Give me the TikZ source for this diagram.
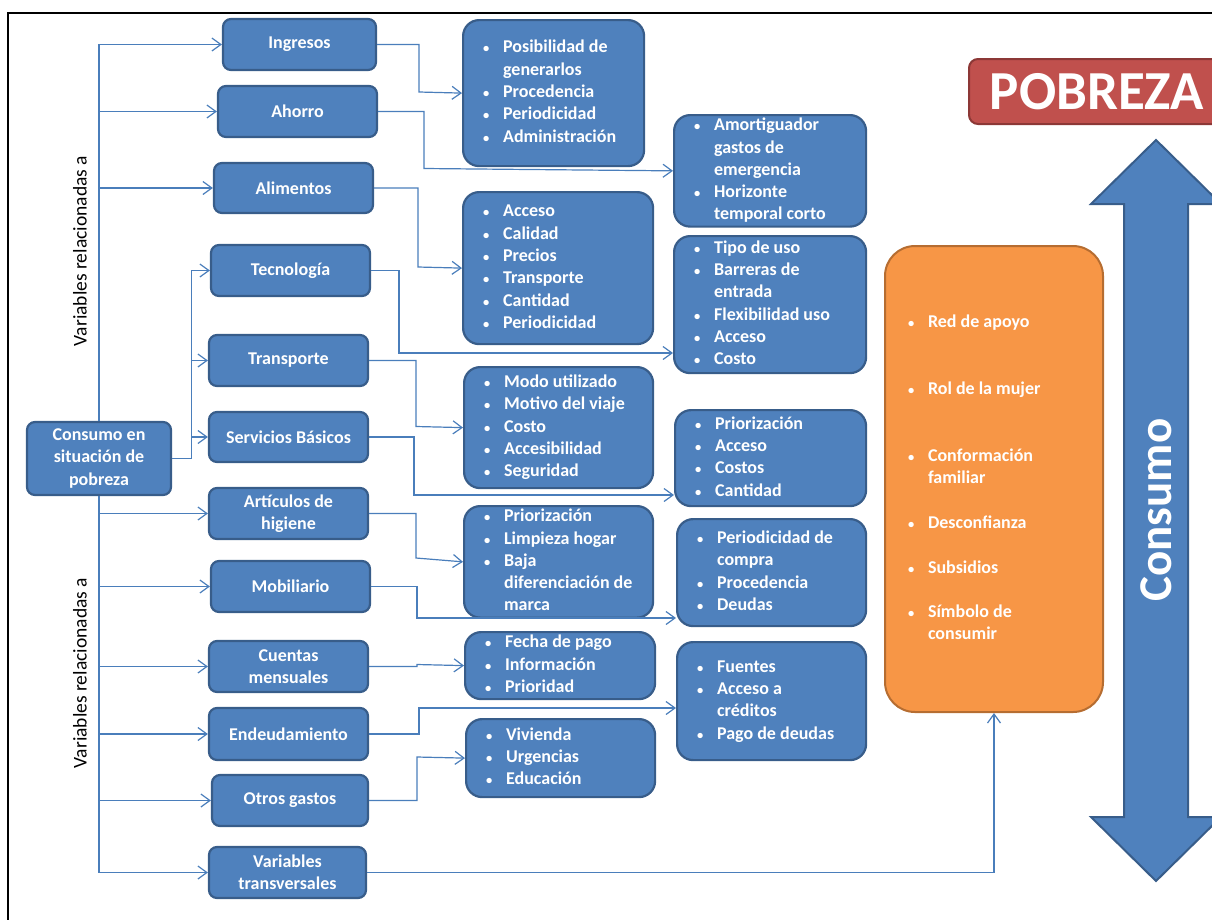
\documentclass[tikz,border=0pt]{standalone}
\usepackage{fontspec}
\setmainfont{Carlito}
\usetikzlibrary{arrows.meta}

\definecolor{boxblue}{RGB}{79,129,189}
\definecolor{boxedge}{RGB}{56,93,138}
\definecolor{linkblue}{RGB}{74,126,187}
\definecolor{orfill}{RGB}{247,150,70}
\definecolor{oredge}{RGB}{182,109,49}
\definecolor{redfill}{RGB}{192,80,77}
\definecolor{rededge}{RGB}{140,56,54}

% small list bullet, one bulleted row and one continuation row of a list
\newcommand\smallbul{{\fontsize{12.5}{12}\selectfont\textbullet}}
\newcommand\bulrow[1]{\smallbul & #1\\}
\newcommand\controw[1]{& #1\\}

\tikzset{
  labelfont/.style={font=\bfseries\fontsize{18}{22.3}\selectfont},
  varbox/.style={draw=boxedge, fill=boxblue, line width=2.2pt, rounded corners=8pt,
    text=white, align=center, inner sep=2pt, labelfont},
  detail/.style={draw=boxedge, fill=boxblue, line width=2.2pt, rounded corners=16pt,
    text=white, inner xsep=20pt, inner ysep=0pt, anchor=north west, labelfont},
  orbox/.style={draw=oredge, fill=orfill, line width=2pt, rounded corners=30pt,
    text=white, inner xsep=23pt, inner ysep=0pt, anchor=north west, labelfont},
  link/.style={draw=linkblue, line width=1.2pt, -{Straight Barb[length=9pt,width=13pt]}},
  sidelabel/.style={rotate=90, font=\fontsize{19.5}{22}\selectfont, text=black},
}

% list box: name, left, top, width, height, rows
\newcommand\detailbox[6]{%
  \node[detail, minimum width=#4, minimum height=#5] (#1) at (#2,#3)
    {\makebox[\dimexpr#4pt-40pt\relax][l]{\begin{tabular}{@{}p{20pt}@{}l@{}}#6\end{tabular}}};}

\begin{document}
\begin{tikzpicture}[x=1pt, y=-1pt]
\useasboundingbox (0,0) rectangle (1212,919);
\clip (0,0) rectangle (1212,919);

% frame
\draw[line width=2.8pt] (8,940) -- (8,13) -- (1240,13);

% central node and the variables
\node[varbox, minimum width=144, minimum height=73] (cons) at (99,458.5) {Consumo en\\situación de\\pobreza};
\node[varbox, minimum width=153, minimum height=51] (ing) at (299.5,44.5) {Ingresos};
\node[varbox, minimum width=159, minimum height=51] (aho) at (297.5,111.5) {Ahorro};
\node[varbox, minimum width=159, minimum height=50] (ali) at (293.5,188) {Alimentos};
\node[varbox, minimum width=159, minimum height=51] (tec) at (290.5,270.5) {Tecnología};
\node[varbox, minimum width=159, minimum height=51] (tra) at (288.5,360.5) {Transporte};
\node[varbox, minimum width=159, minimum height=50] (ser) at (288.5,437) {Servicios Básicos};
\node[varbox, minimum width=159, minimum height=51] (art) at (288.5,513.5) {Artículos de\\higiene};
\node[varbox, minimum width=159, minimum height=51] (mob) at (290.5,586.5) {Mobiliario};
\node[varbox, minimum width=159, minimum height=51] (cue) at (288.5,666.5) {Cuentas\\mensuales};
\node[varbox, minimum width=159, minimum height=52] (endu) at (288.5,734) {Endeudamiento};
\node[varbox, minimum width=156, minimum height=51] (otr) at (290,800.5) {Otros gastos};
\node[varbox, minimum width=157, minimum height=51] (vtr) at (287.5,872.5) {Variables\\transversales};

% side labels
\node[sidelabel] (lblup) at (80,251) {Variables relacionadas a};
\node[sidelabel] (lbldown) at (80,673) {Variables relacionadas a};

% lists of aspects
\detailbox{ingd}{462}{19}{181}{146}{\bulrow{Posibilidad de}\controw{generarlos}\bulrow{Procedencia}\bulrow{Periodicidad}\bulrow{Administración}}
\detailbox{alid}{462}{191}{190}{152}{\bulrow{Acceso}\bulrow{Calidad}\bulrow{Precios}\bulrow{Transporte}\bulrow{Cantidad}\bulrow{Periodicidad}}
\detailbox{amo}{673}{114}{192}{109}{\bulrow{Amortiguador}\controw{gastos de}\controw{emergencia}\bulrow{Horizonte}\controw{temporal corto}}
\detailbox{tecd}{673}{235}{192}{137}{\bulrow{Tipo de uso}\bulrow{Barreras de}\controw{entrada}\bulrow{Flexibilidad uso}\bulrow{Acceso}\bulrow{Costo}}
\detailbox{trad}{463}{366}{189}{121}{\bulrow{Modo utilizado}\bulrow{Motivo del viaje}\bulrow{Costo}\bulrow{Accesibilidad}\bulrow{Seguridad}}
\detailbox{serd}{674}{409}{191}{96}{\bulrow{Priorización}\bulrow{Acceso}\bulrow{Costos}\bulrow{Cantidad}}
\detailbox{artd}{463}{505}{189}{106}{\bulrow{Priorización}\bulrow{Limpieza hogar}\bulrow{Baja}\controw{diferenciación de}\controw{marca}}
\detailbox{mobd}{676}{518}{189}{107}{\bulrow{Periodicidad de}\controw{compra}\bulrow{Procedencia}\bulrow{Deudas}}
\detailbox{cued}{464}{631}{190}{67}{\bulrow{Fecha de pago}\bulrow{Información}\bulrow{Prioridad}}
\detailbox{endd}{676}{641}{189}{118}{\bulrow{Fuentes}\bulrow{Acceso a}\controw{créditos}\bulrow{Pago de deudas}}
\detailbox{otrd}{465}{718}{189}{78}{\bulrow{Vivienda}\bulrow{Urgencias}\bulrow{Educación}}

% cross-cutting variables
\node[orbox, minimum width=218, minimum height=466] (ora) at (884,245)
  {\makebox[172pt][l]{\begin{tabular}{@{}p{20pt}@{}l@{}}
   \smallbul & Red de apoyo\\[44.7pt]
   \smallbul & Rol de la mujer\\[44.7pt]
   \smallbul & Conformación\\
             & familiar\\[22.7pt]
   \smallbul & Desconfianza\\[22.7pt]
   \smallbul & Subsidios\\[21.7pt]
   \smallbul & Símbolo de\\
             & consumir
  \end{tabular}}};

% title and the double arrow
\node[draw=rededge, fill=redfill, line width=2pt, rounded corners=9pt, text=white,
  minimum width=256, minimum height=65, font=\bfseries\fontsize{55}{60}\selectfont]
  (pob) at (1097,91.5) {POBREZA};
\draw[draw=boxedge, fill=boxblue, line width=2pt, line join=miter]
  (1156,140) -- (1221,204) -- (1188,204) -- (1188,817) -- (1221,817) -- (1156,881)
  -- (1091,817) -- (1124,817) -- (1124,204) -- (1091,204) -- cycle;
\node[rotate=90, text=white, font=\bfseries\fontsize{47}{50}\selectfont] (cnsm) at (1156,510) {Consumo};

% trunk from the central node
\draw[link] (cons.north) |- (ing.west);
\draw[link] (cons.north) |- (aho.west);
\draw[link] (cons.north) |- (ali.west);
\draw[link] (cons.east) -- ++(19,0) |- (tec.west);
\draw[link] (cons.east) -- ++(19,0) |- (tra.west);
\draw[link] (cons.east) -- ++(19,0) |- (ser.west);
\draw[link] (cons.south) |- (art.west);
\draw[link] (cons.south) |- (mob.west);
\draw[link] (cons.south) |- (cue.west);
\draw[link] (cons.south) |- (endu.west);
\draw[link] (cons.south) |- (otr.west);
\draw[link] (cons.south) |- (vtr.west);

% variables to their aspects
\draw[link] (ing.east) -| (419,92) -- (ingd.west);
\draw[link] (aho.east) -| (424,168.5) -- (amo.west);
\draw[link] (ali.east) -| (418,267) -- (alid.west);
\draw[link] (tec.east) -| (399,353) -- (tecd.west |- 0,353);
\draw[link] (tra.east) -| (416,426.5) -- (trad.west);
\draw[link] (ser.east) -| (414,495) -- (serd.west |- 0,495);
\draw[link] (art.east) -| (416,558) -- (artd.west);
\draw[link] (mob.east) -| (417,618) -- (mobd.west |- 0,618);
\draw[link] (cue.east) -- (417,666.5) -- (417,664.5) -- (cued.west);
\draw[link] (endu.east) -| (419,708) -- (endd.west |- 0,708);
\draw[link] (otr.east) -| (417,757) -- (otrd.west);
\draw[link] (vtr.east) -| (ora.south);
\end{tikzpicture}
\end{document}
